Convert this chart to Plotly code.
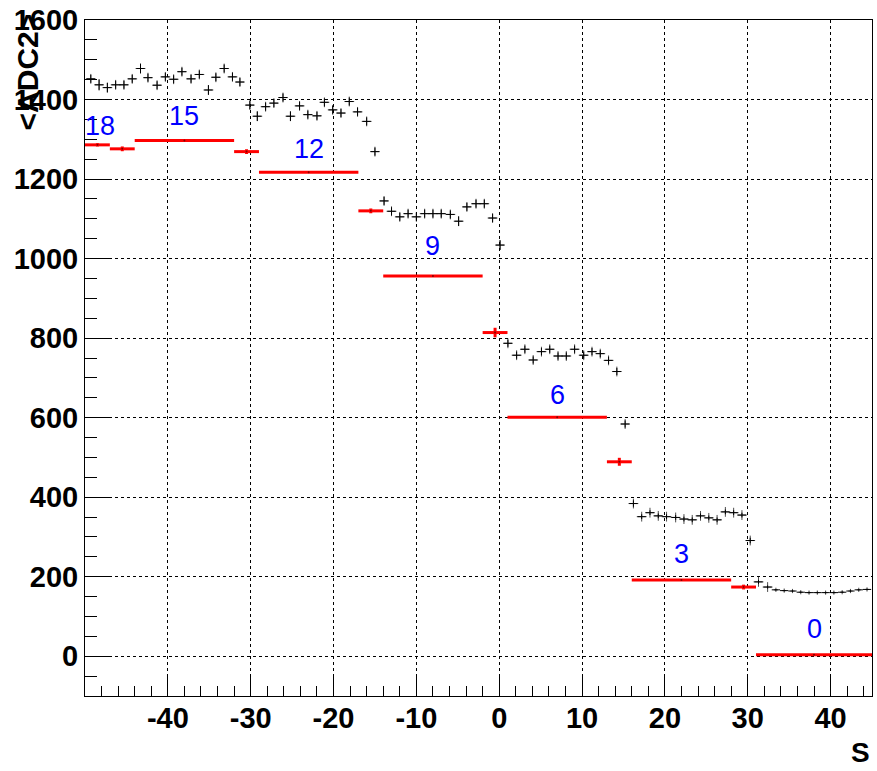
import plotly.graph_objects as go

# ---------------- data ----------------
# black profile points (position S, mean ADC2, error)
s_pts = [-49.3, -48.3, -47.3, -46.3, -45.3, -44.3, -43.3, -42.4, -41.3, -40.3,
         -39.3, -38.3, -37.2, -36.2, -35.1, -34.2, -33.2, -32.2, -31.3, -30.1,
         -29.2, -28.2, -27.2, -26.1, -25.2, -24.1, -23.1, -22.0, -21.1, -20.1,
         -19.1, -18.1, -17.1, -16.0, -15.0, -13.9, -13.0, -12.0, -11.0, -10.0,
         -9.0, -8.0, -7.0, -5.9, -4.9, -3.9, -2.8, -1.8, -0.8, 0.1,
         1.05, 2.1, 3.1, 4.1, 5.1, 6.1, 7.1, 8.1, 9.1, 10.2,
         11.2, 12.2, 13.2, 14.2, 15.2, 16.2, 17.2, 18.2, 19.2, 20.2,
         21.3, 22.3, 23.3, 24.3, 25.3, 26.3, 27.3, 28.3, 29.3, 30.3,
         31.3, 32.4, 33.4, 34.4, 35.4, 36.4, 37.4, 38.4, 39.4, 40.4,
         41.4, 42.4, 43.4, 44.4]
adc_pts = [1452, 1437, 1430, 1437, 1437, 1452, 1478, 1455, 1436, 1457,
           1451, 1470, 1452, 1463, 1424, 1456, 1478, 1457, 1444, 1386,
           1358, 1382, 1391, 1405, 1358, 1384, 1362, 1359, 1393, 1374,
           1366, 1395, 1369, 1345, 1269, 1145, 1119, 1105, 1113, 1105,
           1113, 1113, 1113, 1111, 1094, 1130, 1138, 1138, 1102, 1034,
           787, 757, 772, 745, 766, 772, 755, 755, 772, 757,
           766, 761, 744, 716, 584, 384, 351, 361, 353, 351,
           349, 345, 343, 353, 348, 343, 363, 361, 355, 291,
           187, 174, 167, 165, 164, 161, 160, 160, 160, 160,
           161, 164, 167, 168]
adc_err = [10, 14, 12, 10, 10, 10, 12, 10, 10, 10,
           10, 10, 10, 10, 12, 10, 10, 10, 10, 10,
           12, 10, 10, 10, 12, 10, 10, 10, 10, 10,
           10, 10, 10, 10, 10, 10, 10, 10, 10, 10,
           10, 10, 10, 10, 12, 10, 10, 10, 10, 12,
           9, 9, 9, 9, 9, 9, 9, 9, 9, 9,
           9, 9, 9, 9, 9, 8, 6, 6, 6, 6,
           6, 6, 6, 6, 6, 6, 6, 6, 6, 7,
           5, 4, 2, 2, 2, 2, 2, 2, 2, 2,
           2, 2, 2, 2]
s_halfbin = 0.5

# red reference segments (S range, level, error)
seg_lo = [-50, -47, -44, -32, -29, -17, -14, -2, 1, 13, 16, 28, 31]
seg_hi = [-47, -44, -32, -29, -17, -14, -2, 1, 13, 16, 28, 31, 45]
seg_val = [1286, 1276, 1297, 1269, 1217, 1120, 956, 814, 601, 489, 192, 174, 4]
seg_err = [4, 6, 1, 6, 1, 6, 1, 12, 1, 10, 1, 6, 1]

# blue segment labels
lab_text = ["18", "15", "12", "9", "6", "3", "0"]
lab_x = [-48.2, -38, -23, -8, 7, 22, 38]
lab_y = [1333, 1358, 1276, 1031, 656, 256, 68]

x_ticks = [-40, -30, -20, -10, 0, 10, 20, 30, 40]
x_ticktext = ["-40", "-30", "-20", "-10", "0", "10", "20", "30", "40"]
x_minor = [v for v in range(-48, 45, 2) if v % 10 != 0]
y_ticks = [0, 200, 400, 600, 800, 1000, 1200, 1400, 1600]
y_minor = [v for v in range(-50, 1600, 50) if v % 200 != 0]

# ---------------- figure ----------------
fig = go.Figure()

marker_sizes = [7 if s < 33 else 3 for s in s_pts]
fig.add_trace(go.Scatter(
    x=s_pts, y=adc_pts, mode="markers",
    marker=dict(symbol="cross-thin", size=marker_sizes,
                line=dict(color="black", width=1), color="black"),
    error_x=dict(type="constant", value=s_halfbin, color="black", thickness=1, width=0),
    error_y=dict(type="data", array=adc_err, color="black", thickness=1, width=0),
    showlegend=False, hoverinfo="skip"))

seg_c = [(a + b) / 2 for a, b in zip(seg_lo, seg_hi)]
seg_h = [(b - a) / 2 for a, b in zip(seg_lo, seg_hi)]
fig.add_trace(go.Scatter(
    x=seg_c, y=seg_val, mode="markers",
    marker=dict(size=2, color="#800000"),
    error_x=dict(type="data", array=seg_h, color="red", thickness=3, width=0),
    error_y=dict(type="data", array=seg_err, color="red", thickness=3, width=0),
    showlegend=False, hoverinfo="skip"))

for t, xx, yy in zip(lab_text, lab_x, lab_y):
    fig.add_annotation(x=xx, y=yy, text=t, showarrow=False,
                       font=dict(family="Liberation Sans", size=27, color="#0000ff"),
                       xanchor="center", yanchor="middle")

tickfont = dict(family="Liberation Sans", size=29, color="black", weight="bold")
fig.update_xaxes(
    range=[-50, 45], tickmode="array", tickvals=x_ticks, ticktext=x_ticktext,
    ticks="inside", ticklen=19, tickwidth=1, tickcolor="black",
    minor=dict(tickmode="array", tickvals=x_minor, ticks="inside", ticklen=10,
               tickcolor="black", showgrid=False),
    showgrid=True, gridcolor="black", gridwidth=1, griddash="3px,3px",
    showline=True, linecolor="black", linewidth=1, mirror=True,
    zeroline=False, tickfont=tickfont, ticklabelstandoff=-4)
fig.update_yaxes(
    range=[-100, 1600], tickmode="array", tickvals=y_ticks,
    ticks="inside", ticklen=25, tickwidth=1, tickcolor="black",
    minor=dict(tickmode="array", tickvals=y_minor, ticks="inside", ticklen=12,
               tickcolor="black", showgrid=False),
    showgrid=True, gridcolor="black", gridwidth=1, griddash="3px,3px",
    showline=True, linecolor="black", linewidth=1, mirror=True,
    zeroline=False, tickfont=tickfont)

fig.add_annotation(xref="paper", yref="paper", x=-0.0736, y=1.012,
                   text="&lt;ADC2&gt;", textangle=-90, showarrow=False,
                   xanchor="center", yanchor="top",
                   font=dict(family="Liberation Sans", size=30, color="black", weight="bold"))
fig.add_annotation(xref="paper", yref="paper", x=0.985, y=-0.083,
                   text="S", showarrow=False, xanchor="center", yanchor="middle",
                   font=dict(family="Liberation Sans", size=28, color="black", weight="bold"))

fig.update_layout(width=877, height=771,
                  margin=dict(l=85, r=4, t=17, b=75),
                  paper_bgcolor="white", plot_bgcolor="white")

fig.write_html("out.html")
